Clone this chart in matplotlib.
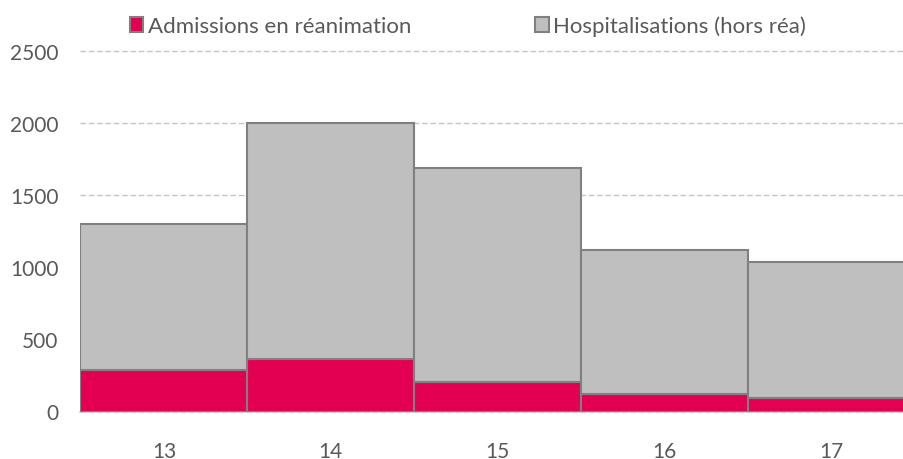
import matplotlib.pyplot as plt
import numpy as np

# weeks and stacked values
semaines = ['13', '14', '15', '16', '17']
reanimation = [288, 365, 203, 122, 92]
hospitalisations = [1012, 1635, 1487, 1000, 948]

plt.rcParams['font.family'] = ['Lato', 'DejaVu Sans']

fig = plt.figure(figsize=(9.04, 4.60), dpi=100)
ax = fig.add_axes([80.5 / 904, 47.5 / 460, 834 / 904, 360 / 460])

x = np.arange(len(semaines))
ax.bar(x, reanimation, width=1.0, color='#E30052', edgecolor='#808080',
       linewidth=1.5, label='Admissions en réanimation', zorder=3)
ax.bar(x, hospitalisations, width=1.0, bottom=reanimation, color='#BFBFBF',
       edgecolor='#808080', linewidth=1.5, label='Hospitalisations (hors réa)', zorder=3)

ax.set_xlim(-0.5, len(semaines) - 0.5)
ax.set_ylim(0, 2500)
ax.set_yticks(range(0, 2501, 500))
ax.set_xticks(x)
ax.set_xticklabels(semaines)

ax.grid(axis='y', color='#C4C4C4', linestyle=(0, (4, 2)), linewidth=1, zorder=0)
for gl in ax.get_ygridlines():
    gl.set_clip_on(False)
for s in ['top', 'right', 'left']:
    ax.spines[s].set_visible(False)
ax.spines['bottom'].set_color('#D0D0D0')
ax.spines['bottom'].set_linewidth(1.2)
ax.tick_params(axis='both', length=0, labelsize=15, colors='#595959')
ax.tick_params(axis='x', pad=21)
ax.tick_params(axis='y', pad=16)

leg = fig.legend(loc='center', bbox_to_anchor=(468 / 904, 1 - 27 / 460), ncol=2,
                 frameon=False, fontsize=16, handlelength=0.6, handleheight=0.6,
                 handletextpad=0.2, columnspacing=5.6)
for t in leg.get_texts():
    t.set_color('#595959')

fig.savefig('out.png', dpi=100)
